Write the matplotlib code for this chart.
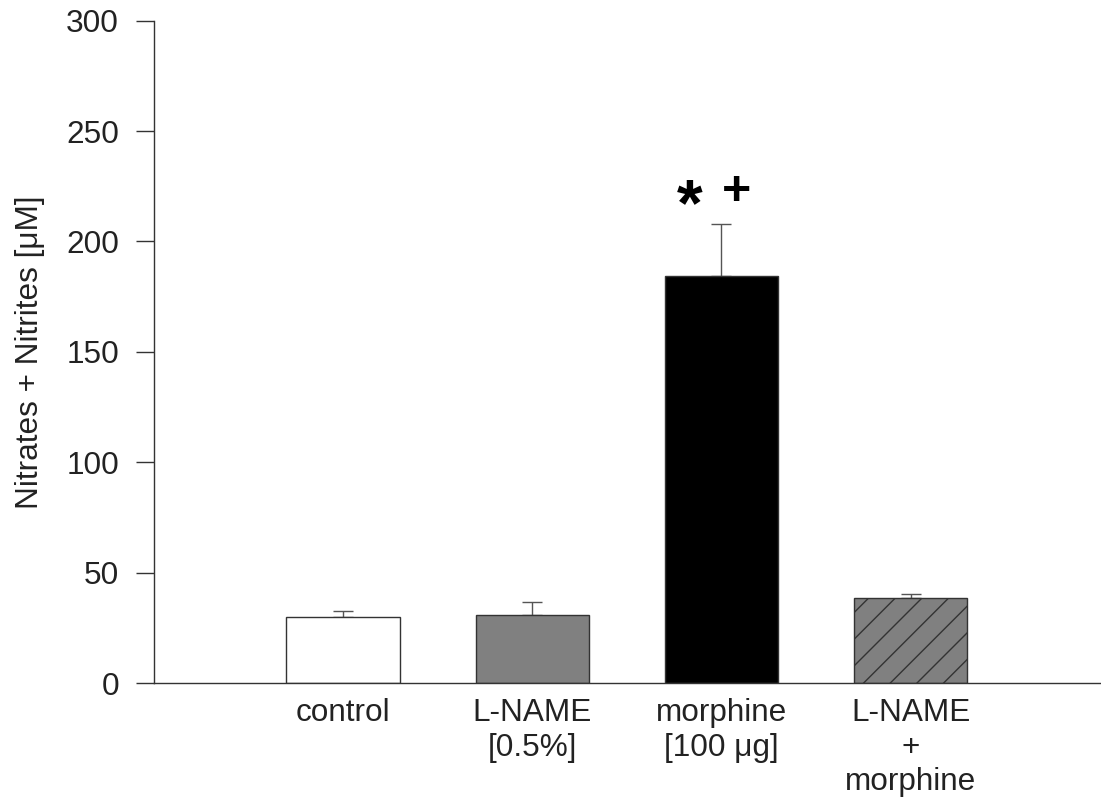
import matplotlib
matplotlib.use("Agg")
import matplotlib.pyplot as plt
import numpy as np

# rendered at dpi 160 so the '//' hatch gets the wide spacing of the original
DPI = 160


def px(v):
    # pixels -> points at this dpi
    return v * 72.0 / DPI


plt.rcParams['font.family'] = ['Liberation Sans', 'DejaVu Sans']
plt.rcParams['hatch.linewidth'] = px(1.4)
plt.rcParams['hatch.color'] = 'black'

groups = ["control", "L-NAME\n[0.5%]", "morphine\n[100 \u03bcg]", "L-NAME\n+\nmorphine"]
means = [30.0, 30.8, 184.4, 38.6]
errs = [2.6, 5.9, 23.6, 1.7]
fills = ['white', '#808080', 'black', '#808080']
hatches = ['', '', '', '//']

fig = plt.figure(figsize=(1101 / DPI, 801 / DPI), dpi=DPI)
ax = fig.add_axes([0.1399, 0.1473, 0.859, 0.8269])

fs = px(31.5)
lw = px(1.4)

x = np.arange(len(groups))
bars = ax.bar(x, means, width=0.6, color=fills, edgecolor='#333333', linewidth=lw, zorder=2)
for b, h in zip(bars, hatches):
    if h:
        b.set_hatch(h)

ax.errorbar(x, means, yerr=[np.zeros(len(errs)), errs], fmt='none', ecolor='#555555',
            elinewidth=lw, capsize=px(10), capthick=lw, zorder=1)

# significance marks above morphine bar
ax.text(1.83, 215, '*', ha='center', va='center', fontsize=px(66), fontweight='bold')
ax.text(2.08, 222.5, '+', ha='center', va='center', fontsize=px(50), fontweight='bold')

ax.set_xlim(-1, 4)
ax.set_ylim(0, 300)
ax.set_yticks(np.arange(0, 301, 50))
ax.set_xticks(x)
ax.set_xticklabels(groups, fontsize=fs, linespacing=1.2, color='#222222')
ax.tick_params(axis='x', length=0, pad=px(15))
ax.tick_params(axis='y', labelsize=fs, length=px(18), width=lw, color='#333333',
               pad=px(17), labelcolor='#222222')
ax.spines['top'].set_visible(False)
ax.spines['right'].set_visible(False)
for s in ('left', 'bottom'):
    ax.spines[s].set_linewidth(lw)
    ax.spines[s].set_color('#333333')

ax.set_ylabel('Nitrates + Nitrites [\u03bcM]', fontsize=fs, color='#222222', labelpad=px(21))

fig.savefig('out.png', dpi=DPI)
